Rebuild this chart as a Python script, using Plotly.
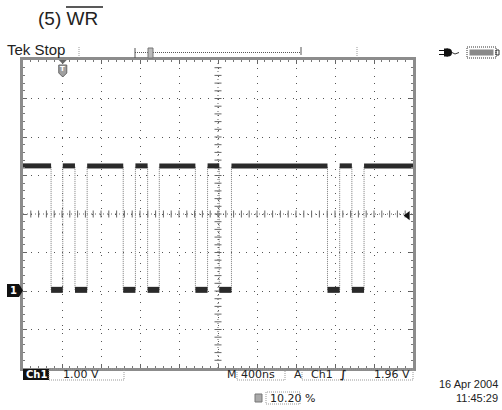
import numpy as np
import plotly.graph_objects as go

# ---- acquisition settings ----
volts_per_div = 1.00
ns_per_div = 400
pretrigger = 0.102           # 10.20 %
trigger_level = 1.96
x_start = -pretrigger * 10 * ns_per_div
x_end = x_start + 10 * ns_per_div
y_bottom, y_top = -2.0, 6.0
x_center = (x_start + x_end) / 2
y_center = (y_bottom + y_top) / 2

# ---- WR signal: transition times (ns from trigger) and logic levels ----
edge_times_ns = [-120, 0, 125, 250, 620, 745, 870, 990,
                 1360, 1485, 1605, 1730, 2715, 2840, 2965, 3090]
level_high_v = 3.25
level_low_v = 0.03

# ---- readout text ----
title_text = "(5) WR"
status_text = "Tek Stop"
ch_label = "Ch1"
ch_scale = "1.00 V"
time_label = "M"
time_scale = "400ns"
trig_label = "A"
trig_source = "Ch1"
trig_value = "1.96 V"
position_text = "10.20 %"
date_text = "16 Apr 2004"
time_text = "11:45:29"

# ---- build plateaus and edges from the transition list ----
bounds = [x_start] + edge_times_ns + [x_end]
hx, hy, lx, ly = [], [], [], []
for i in range(len(bounds) - 1):
    a, b = bounds[i], bounds[i + 1]
    if i % 2 == 0:
        hx += [a, b, None]; hy += [level_high_v, level_high_v, None]
    else:
        lx += [a, b, None]; ly += [level_low_v, level_low_v, None]
ex, ey = [], []
for t in edge_times_ns:
    ex += [t, t, None]; ey += [level_low_v, level_high_v, None]

# screen area in pixels
L, R, T, B = 23, 413, 60, 368
W, H = 502, 410


def px(x):
    return (x - L) / (R - L)


def py(y):
    return (B - y) / (B - T)


fig = go.Figure()

# center graticule tick marks
cx_ticks = np.arange(x_start + 80, x_end - 1, 80)
cy_ticks = np.arange(y_bottom + 0.2, y_top - 0.01, 0.2)
fig.add_trace(go.Scatter(x=cx_ticks, y=np.full(len(cx_ticks), y_center), mode="markers",
                         marker=dict(symbol="line-ns", size=5, line=dict(width=1, color="#666")),
                         hoverinfo="skip", showlegend=False))
fig.add_trace(go.Scatter(x=np.full(len(cy_ticks), x_center), y=cy_ticks, mode="markers",
                         marker=dict(symbol="line-ew", size=5, line=dict(width=1, color="#666")),
                         hoverinfo="skip", showlegend=False))

# waveform
fig.add_trace(go.Scatter(x=ex, y=ey, mode="lines", line=dict(color="#7a7a7a", width=1, dash="1px,1px"),
                         hoverinfo="skip", showlegend=False))
fig.add_trace(go.Scatter(x=hx, y=hy, mode="lines", line=dict(color="#2a2a2a", width=5),
                         hoverinfo="skip", showlegend=False))
fig.add_trace(go.Scatter(x=lx, y=ly, mode="lines", line=dict(color="#2a2a2a", width=6),
                         hoverinfo="skip", showlegend=False))

# trigger level pointer
fig.add_trace(go.Scatter(x=[x_end - 55], y=[trigger_level], mode="markers",
                         marker=dict(symbol="triangle-left", size=8, color="#111"),
                         hoverinfo="skip", showlegend=False))

shapes = []
# center crosshair
shapes.append(dict(type="line", xref="x", yref="y", x0=x_start, x1=x_end, y0=y_center, y1=y_center,
                   line=dict(color="#666", width=1, dash="1px,3px"), layer="below"))
shapes.append(dict(type="line", xref="x", yref="y", x0=x_center, x1=x_center, y0=y_bottom, y1=y_top,
                   line=dict(color="#666", width=1, dash="1px,3px"), layer="below"))

# record bar at the top
shapes.append(dict(type="line", xref="paper", yref="paper", x0=px(135), x1=px(301), y0=py(52.5), y1=py(52.5),
                   line=dict(color="#555", width=1, dash="1px,1px")))
shapes.append(dict(type="line", xref="paper", yref="paper", x0=px(135), x1=px(135), y0=py(48), y1=py(58),
                   line=dict(color="#555", width=1)))
shapes.append(dict(type="line", xref="paper", yref="paper", x0=px(301), x1=px(301), y0=py(47), y1=py(55),
                   line=dict(color="#555", width=1)))
shapes.append(dict(type="rect", xref="paper", yref="paper", x0=px(148), x1=px(153), y0=py(58), y1=py(48),
                   line=dict(color="#777", width=1), fillcolor="#bbb"))
for xv in (79, 357):
    shapes.append(dict(type="line", xref="paper", yref="paper", x0=px(xv), x1=px(xv), y0=py(47), y1=py(58),
                       line=dict(color="#999", width=1, dash="1px,1px")))

# trigger position marker under the top edge
tx = 23 + pretrigger * 390
shapes.append(dict(type="path", xref="paper", yref="paper",
                   path=f"M {px(tx-4)} {py(60)} L {px(tx+4)} {py(60)} L {px(tx)} {py(64)} Z",
                   fillcolor="#666", line=dict(width=0)))
shapes.append(dict(type="path", xref="paper", yref="paper",
                   path=(f"M {px(tx-4)} {py(65)} L {px(tx+4)} {py(65)} L {px(tx+4)} {py(73)} "
                         f"L {px(tx)} {py(77)} L {px(tx-4)} {py(73)} Z"),
                   fillcolor="#a0a0a0", line=dict(color="#666", width=1)))

# channel 1 ground marker
shapes.append(dict(type="rect", xref="paper", yref="paper", x0=px(7), x1=px(19), y0=py(297), y1=py(284),
                   fillcolor="#111", line=dict(width=0)))
shapes.append(dict(type="path", xref="paper", yref="paper",
                   path=f"M {px(19)} {py(284)} L {px(23)} {py(290.5)} L {px(19)} {py(297)} Z",
                   fillcolor="#111", line=dict(width=0)))

# plug and battery icons
shapes.append(dict(type="circle", xref="paper", yref="paper", x0=px(444), x1=px(452), y0=py(56.5), y1=py(48.5),
                   fillcolor="#111", line=dict(width=0)))
shapes.append(dict(type="rect", xref="paper", yref="paper", x0=px(444), x1=px(448), y0=py(56.5), y1=py(48.5),
                   fillcolor="#111", line=dict(width=0)))
for yv in (50.5, 54.5):
    shapes.append(dict(type="line", xref="paper", yref="paper", x0=px(439), x1=px(444), y0=py(yv), y1=py(yv),
                       line=dict(color="#111", width=1)))
shapes.append(dict(type="path", xref="paper", yref="paper",
                   path=f"M {px(452)} {py(52.5)} L {px(455)} {py(54)} L {px(459)} {py(52.5)}",
                   line=dict(color="#333", width=1)))
shapes.append(dict(type="rect", xref="paper", yref="paper", x0=px(467), x1=px(496), y0=py(58), y1=py(47),
                   line=dict(color="#333", width=1, dash="1px,1px"), fillcolor="rgba(0,0,0,0)"))
shapes.append(dict(type="rect", xref="paper", yref="paper", x0=px(469.5), x1=px(493.5), y0=py(55.5), y1=py(49.5),
                   line=dict(width=0), fillcolor="#8a8a8a"))
shapes.append(dict(type="rect", xref="paper", yref="paper", x0=px(496), x1=px(499), y0=py(55), y1=py(50),
                   line=dict(color="#333", width=1), fillcolor="rgba(0,0,0,0)"))

# title overline
shapes.append(dict(type="line", xref="paper", yref="paper", x0=px(66), x1=px(103), y0=py(7), y1=py(7),
                   line=dict(color="#222", width=1.5)))

# readout boxes
shapes.append(dict(type="rect", xref="paper", yref="paper", x0=px(23), x1=px(49), y0=py(380), y1=py(369),
                   fillcolor="#111", line=dict(width=0)))
for x0, x1, y0, y1 in [(49, 124, 369, 380), (237, 285, 369, 380), (302, 413, 369, 380), (266, 300, 392, 404)]:
    shapes.append(dict(type="rect", xref="paper", yref="paper", x0=px(x0), x1=px(x1), y0=py(y1), y1=py(y0),
                       line=dict(color="#999", width=1, dash="1px,1px"), fillcolor="rgba(0,0,0,0)"))
# position icon
shapes.append(dict(type="rect", xref="paper", yref="paper", x0=px(255), x1=px(262), y0=py(402), y1=py(394),
                   fillcolor="#aaa", line=dict(color="#777", width=1)))

annotations = []


def label(x, y, text, size=11, family="DejaVu Sans", color="#222", anchor="left", **kw):
    annotations.append(dict(xref="paper", yref="paper", x=px(x), y=py(y), text=text, showarrow=False,
                            xanchor=anchor, yanchor="middle", font=dict(family=family, size=size, color=color), **kw))


label(36, 19, title_text, size=19, family="Liberation Sans")
label(5, 50, status_text, size=15, family="Liberation Sans")
label(tx, 69, "<b>T</b>", size=7, color="#fff", anchor="center")
label(13, 290.5, "<b>1</b>", size=10, color="#fff", anchor="center")
label(36, 374.5, f"<b>{ch_label}</b>", size=10, color="#fff", anchor="center")
label(61, 374.5, ch_scale)
label(225, 374.5, time_label)
label(239, 374.5, time_scale)
label(292, 374.5, trig_label)
label(309, 374.5, trig_source)
label(343, 374.5, "<b>∫</b>", size=11, anchor="center")
label(412, 374.5, trig_value, anchor="right")
label(268, 398, position_text)
label(500, 384, date_text, size=11, family="Liberation Sans", anchor="right")
label(500, 397.5, time_text, size=11, family="Liberation Sans", anchor="right")

axis_common = dict(showticklabels=False, zeroline=False, showline=True, linewidth=3, linecolor="#8c8c8c",
                   mirror="allticks", ticks="inside", ticklen=4, tickcolor="#666", showgrid=True,
                   gridcolor="#555", gridwidth=1, fixedrange=True)

fig.update_layout(
    width=W, height=H,
    margin=dict(l=L, r=W - R, t=T, b=H - B),
    paper_bgcolor="white", plot_bgcolor="white",
    showlegend=False,
    xaxis=dict(range=[x_start, x_end], tick0=x_start, dtick=ns_per_div, griddash="1px,6.8px",
               minor=dict(tick0=x_start, dtick=ns_per_div / 5, ticks="inside", ticklen=2, tickcolor="#777",
                          showgrid=False), **axis_common),
    yaxis=dict(range=[y_bottom, y_top], tick0=y_bottom, dtick=volts_per_div, griddash="1px,6.7px",
               minor=dict(tick0=y_bottom, dtick=volts_per_div / 5, ticks="inside", ticklen=2, tickcolor="#777",
                          showgrid=False), **axis_common),
    shapes=shapes,
    annotations=annotations,
)

fig.write_html("out.html")
